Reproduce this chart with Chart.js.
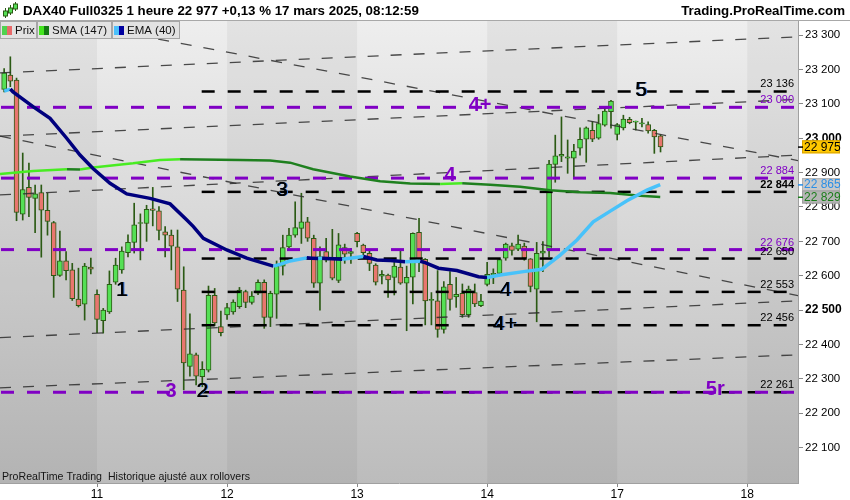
<!DOCTYPE html>
<html>
<head>
<meta charset="utf-8">
<script src="https://cdn.jsdelivr.net/npm/chart.js@4/dist/chart.umd.min.js"></script>
<style>html,body{margin:0;padding:0;background:#fff}canvas{display:block}</style>
</head>
<body>
<canvas id="c" width="850" height="500"></canvas>
<script>
// hourly candles, index 0 = 10 mars ~08:00, 21 bars per trading day
const opens  = [23142,23184,23169,22779,22857,22825,22842,22790,22755,22601,22643,22617,22532,22517,22625,
  22546,22469,22495,22581,22617,22667,22697,22752,22752,22795,22789,22728,22718,22684,22558,22336,22370,22306,22325,22543,22452,
  22486,22495,22510,22554,22522,22549,22581,22479,22546,22628,22684,22718,22738,22757,22709,22578,22670,22648,22586,22682,22665,
  22723,22689,22665,22631,22599,22602,22595,22625,22578,22596,22726,22648,22528,22527,22444,22575,22538,22549,22487,22551,22513,
  22575,22602,22607,22651,22687,22677,22686,22649,22561,22666,22675,22924,22948,22942,22942,22971,22997,23023,23000,23038,23077,
  23011,23030,23055,23047,23042,23040,23023,23007];
const highs  = [23203,23237,23175,22957,22928,22864,22864,22840,22758,22730,22670,22636,22622,22636,22651,
  22559,22505,22614,22651,22684,22719,22811,22780,22805,22857,22801,22743,22733,22733,22626,22489,22375,22350,22570,22563,22497,
  22520,22530,22566,22558,22554,22588,22588,22555,22643,22718,22738,22815,22840,22770,22718,22684,22709,22735,22723,22692,22680,
  22726,22692,22675,22635,22615,22605,22648,22677,22628,22725,22767,22650,22551,22615,22583,22612,22595,22576,22570,22576,22546,
  22639,22620,22650,22695,22695,22718,22695,22650,22697,22699,22936,23009,23062,22995,22982,23030,23033,23048,23069,23087,23110,
  23043,23067,23061,23050,23058,23048,23026,23010];
const lows   = [23135,23150,22760,22762,22772,22725,22654,22718,22537,22598,22588,22528,22509,22471,22605,
  22434,22433,22490,22575,22607,22655,22666,22646,22700,22745,22704,22655,22617,22525,22268,22308,22282,22277,22320,22455,22425,
  22473,22488,22505,22507,22517,22545,22447,22452,22476,22602,22680,22712,22694,22700,22566,22500,22640,22588,22580,22636,22636,
  22684,22660,22615,22573,22576,22537,22544,22575,22440,22518,22612,22457,22457,22421,22433,22500,22508,22479,22479,22510,22510,
  22570,22577,22600,22645,22660,22673,22645,22553,22466,22612,22655,22872,22932,22898,22888,22951,22930,22990,22997,23035,23029,
  22995,23024,23042,23024,23033,23015,22956,22960];
const closes = [23190,23166,22784,22851,22828,22838,22791,22758,22600,22643,22615,22533,22513,22628,22619,
  22473,22500,22575,22631,22672,22697,22748,22755,22793,22790,22732,22718,22686,22561,22346,22373,22308,22328,22543,22463,22434,
  22507,22523,22558,22522,22541,22581,22479,22549,22628,22682,22718,22740,22757,22709,22578,22656,22645,22593,22690,22663,22670,
  22699,22667,22636,22581,22604,22588,22628,22578,22595,22723,22648,22527,22531,22444,22568,22531,22546,22487,22561,22518,22526,
  22604,22607,22647,22692,22674,22692,22651,22569,22665,22672,22925,22949,22953,22946,22963,22997,23030,22997,23043,23079,23108,
  23040,23056,23045,23050,23045,23021,23004,22975];

// moving averages (bar index, price)
const smaIdx  = [-0.67,4.66,10.15,12.25,14.35,20.82,25.18,28.41,31.64,38.1,42.95,46.18,49.9,55.87,60.72,65.57,70.41,73.97,78.49,83.34,88.18,93.03,97.88,102.72,105.95];
const smaVals = [22896,22905,22910,22909,22915,22927,22937,22939,22938,22937,22935,22929,22910,22889,22875,22868,22867,22869,22865,22859,22849,22843,22841,22833,22829];
const emaIdx  = [0,1,1.43,4.66,7.41,10.1,12.25,14.35,17.1,19.8,23.56,26.8,29.5,30.56,32.17,35.95,39.18,43.48,44.56,46.18,48.88,49.7,50.7,51.35,54.58,58.02,60.19,62.33,64.76,67.18,67.99,70.14,73.11,76.6,78.0,80.1,83.87,86.84,89.8,92.5,95.13,97.88,100.57,103.8,105.95];
const emaVals = [23137,23143,23135,23092,23058,23000,22951,22912,22869,22838,22825,22809,22762,22743,22709,22675,22651,22628,22633,22643,22652,22651,22650,22651,22648,22656,22646,22644,22641,22642,22638,22622,22615,22597,22595,22602,22612,22619,22660,22704,22757,22788,22818,22849,22865];

// horizontal levels
const purpleLevels = [23090, 22884, 22676, 22261];
const purpleLabelLevels = [23090, 22884, 22676];
const blackLevels = [23136, 22844, 22650, 22553, 22456, 22261];
const blackLevelStart = 32;

// thin dashed trend lines: [idx0, price0, idx1, price1]
const trendLines = [
  [-0.67, 23190, 128.2, 23295],
  [-0.67, 23006, 128.2, 23113],
  [-0.67, 23006, 128.2, 22542],
  [-0.67, 23376, 128.2, 22935],
  [-0.67, 22420, 128.2, 22527],
  [-0.67, 22274, 128.2, 22370],
  [-0.67, 22835, 128.2, 22951]
];

// wave labels
const waveText   = ['1','2','3','3','4','4+','4','4+','5','5r'];
const waveIdx    = [19.04,32.04,44.9,26.95,80.99,80.9,72.03,76.87,102.9,114.84];
const wavePrice  = [22557,22263,22849,22262,22558,22460,22893,23096,23140,22268];
const wavePurple = [false,false,false,true,false,false,true,true,false,true];

const dayTickIdx = [15, 36, 57, 78, 99, 120];
const dayLabels  = ['11', '12', '13', '14', '17', '18'];
const yTicks = [22100,22200,22300,22400,22500,22600,22700,22800,22900,23000,23100,23200,23300];

const lastPrice = 22975, emaLast = 22865, smaLast = 22829;

const FONT = "'Liberation Sans', Arial, sans-serif";
const UP = '#55e055', DOWN = '#e8766e', EDGE = '#2b5a14';
const PURPLE = '#8000c4';
const fmt = v => String(v).replace(/\B(?=(\d{3})+(?!\d))/g, ' ');

const idxs = closes.map((_, i) => i);
const datasets = [];

datasets.push({
  type: 'bar', order: 10, grouped: false,
  data: idxs.map(i => ({x: i, y: [lows[i], highs[i]]})),
  backgroundColor: EDGE, borderWidth: 0, barThickness: 1, clip: 0
});
datasets.push({
  type: 'bar', order: 9, grouped: false,
  data: idxs.map(i => ({x: i, y: [opens[i], closes[i]]})),
  backgroundColor: c => closes[c.dataIndex] >= opens[c.dataIndex] ? UP : DOWN,
  borderColor: EDGE, borderWidth: 1, borderSkipped: false, barThickness: 5, minBarLength: 1, clip: 0
});
trendLines.forEach(t => datasets.push({
  type: 'line', order: 6, data: [{x: t[0], y: t[1]}, {x: t[2], y: t[3]}],
  borderColor: 'rgba(45,45,45,0.85)', borderWidth: 1.3, borderDash: [11, 12], pointRadius: 0, clip: 0
}));
datasets.push({
  type: 'line', order: 3, data: smaIdx.map((v, i) => ({x: v, y: smaVals[i]})),
  borderWidth: 2.5, pointRadius: 0, clip: 0,
  segment: {borderColor: s => s.p1.parsed.y >= s.p0.parsed.y ? '#48ec22' : '#1f801f'}
});
datasets.push({
  type: 'line', order: 2, data: emaIdx.map((v, i) => ({x: v, y: emaVals[i]})),
  borderWidth: 3.5, pointRadius: 0, clip: 0,
  segment: {borderColor: s => s.p1.parsed.y >= s.p0.parsed.y ? '#48c2fa' : '#00007e'}
});
blackLevels.forEach(v => datasets.push({
  type: 'line', order: 5, data: [{x: blackLevelStart - 0.1, y: v}, {x: 128.2, y: v}],
  borderColor: '#000', borderWidth: 2.5, borderDash: [13, 13], pointRadius: 0, clip: 0
}));
purpleLevels.forEach(v => datasets.push({
  type: 'line', order: 4, data: [{x: -0.67, y: v}, {x: 128.2, y: v}],
  borderColor: PURPLE, borderWidth: 3, borderDash: [13, 13], borderDashOffset: -1, pointRadius: 0, clip: 0
}));

const bgPlugin = {
  id: 'bg',
  beforeDraw(chart) {
    const {ctx, chartArea: a, scales: {x}} = chart;
    ctx.save();
    ctx.fillStyle = '#fff';
    ctx.fillRect(0, 0, chart.width, chart.height);
    const g = ctx.createLinearGradient(0, a.top, 0, a.bottom);
    g.addColorStop(0, '#eeeeee');
    g.addColorStop(1, '#bcbcbc');
    ctx.fillStyle = g;
    ctx.fillRect(a.left, a.top, a.right - a.left, a.bottom - a.top);
    const edges = [x.min, ...dayTickIdx, x.max];
    ctx.fillStyle = 'rgba(0,0,0,0.045)';
    for (let i = 0; i < edges.length - 1; i += 2) {
      const x0 = x.getPixelForValue(edges[i]), x1 = x.getPixelForValue(edges[i + 1]);
      ctx.fillRect(x0, a.top, x1 - x0, a.bottom - a.top);
    }
    ctx.restore();
  }
};

function legendBox(ctx, x0, x1, c1, c2, label) {
  ctx.fillStyle = '#e2e2e2';
  ctx.fillRect(x0, 21, x1 - x0, 18);
  ctx.strokeStyle = '#a6a6a6';
  ctx.lineWidth = 1;
  ctx.strokeRect(x0 + 0.5, 21.5, x1 - x0 - 1, 17);
  ctx.fillStyle = c1; ctx.fillRect(x0 + 2, 26, 5, 9);
  ctx.fillStyle = c2; ctx.fillRect(x0 + 7, 26, 5, 9);
  ctx.fillStyle = '#111';
  ctx.font = '11.5px ' + FONT;
  ctx.textAlign = 'left'; ctx.textBaseline = 'middle';
  ctx.fillText(label, x0 + 15, 31);
}

const overlay = {
  id: 'overlay',
  afterDraw(chart) {
    const {ctx, chartArea: a, scales: {x, y}} = chart;
    ctx.save();

    // level labels
    ctx.textAlign = 'right'; ctx.textBaseline = 'alphabetic';
    purpleLabelLevels.forEach(v => {
      ctx.font = '11px ' + FONT; ctx.fillStyle = PURPLE;
      ctx.fillText(fmt(v), a.right - 4, y.getPixelForValue(v) - 4);
    });
    blackLevels.forEach(v => {
      ctx.font = (v === 22844 ? 'bold ' : '') + '11px ' + FONT; ctx.fillStyle = '#000';
      ctx.fillText(fmt(v), a.right - 4, y.getPixelForValue(v) - 4);
    });

    // wave labels
    ctx.textAlign = 'center'; ctx.textBaseline = 'middle';
    waveText.forEach((t, i) => {
      const px = x.getPixelForValue(waveIdx[i]), py = y.getPixelForValue(wavePrice[i]);
      if (wavePurple[i]) {
        ctx.font = 'bold 20px ' + FONT; ctx.fillStyle = PURPLE;
        ctx.fillText(t, px, py);
      } else {
        ctx.font = '21px ' + FONT;
        ctx.fillStyle = '#3a7ae0'; ctx.fillText(t, px + 1, py);
        ctx.fillStyle = '#000'; ctx.fillText(t, px, py);
        ctx.fillText(t, px - 0.4, py);
      }
    });

    // attribution
    ctx.textAlign = 'left'; ctx.textBaseline = 'alphabetic';
    ctx.font = '11px ' + FONT; ctx.fillStyle = '#151515';
    const note = 'ProRealTime Trading  Historique ajusté aux rollovers';
    const w = ctx.measureText(note).width;
    ctx.save(); ctx.translate(2, 480); ctx.scale(248 / w, 1); ctx.fillText(note, 0, 0); ctx.restore();

    // price tags on the axis
    const tag = (v, fill, stroke, color, tick) => {
      const py = y.getPixelForValue(v);
      ctx.fillStyle = fill; ctx.fillRect(a.right + 4, py - 6.5, 38, 13);
      ctx.strokeStyle = stroke; ctx.lineWidth = 1; ctx.strokeRect(a.right + 4.5, py - 6, 37, 12);
      ctx.fillStyle = tick; ctx.fillRect(a.right, py - 0.5, 5, 1.5);
      ctx.font = '12px ' + FONT; ctx.fillStyle = color; ctx.textAlign = 'left'; ctx.textBaseline = 'middle';
      ctx.fillText(fmt(v), a.right + 6, py + 0.5);
    };
    tag(lastPrice, '#ffc800', '#d9a200', '#000', '#000');
    tag(emaLast, '#c9c9c9', '#b0b0b0', '#2b8fe6', '#2b8fe6');
    tag(smaLast, '#b5b5b5', '#a0a0a0', '#1a7d1a', '#1a7d1a');

    // header
    ctx.fillStyle = '#fff'; ctx.fillRect(0, 0, chart.width, 20);
    ctx.fillStyle = '#a8a8a8'; ctx.fillRect(0, 20, chart.width, 1);
    [[5, 11, 16, 8, 18], [10, 8, 13, 5, 15], [15, 4, 9, 2, 11]].forEach(c => {
      ctx.fillStyle = EDGE; ctx.fillRect(c[0], c[3], 1, c[4] - c[3]);
      ctx.fillStyle = UP; ctx.fillRect(c[0] - 1.5, c[1], 4, c[2] - c[1]);
      ctx.strokeStyle = EDGE; ctx.strokeRect(c[0] - 1.5, c[1], 4, c[2] - c[1]);
    });
    ctx.font = 'bold 13.3px ' + FONT; ctx.fillStyle = '#000';
    ctx.textAlign = 'left'; ctx.textBaseline = 'middle';
    ctx.fillText('DAX40 Full0325 1 heure 22 977 +0,13 % 17 mars 2025, 08:12:59', 23, 11);
    ctx.textAlign = 'right';
    ctx.fillText('Trading.ProRealTime.com', 845, 11);

    // legend row
    legendBox(ctx, 0, 37, '#4fd24f', '#e86a6a', 'Prix');
    legendBox(ctx, 37, 112, '#44e61e', '#137a13', 'SMA (147)');
    legendBox(ctx, 112, 180, '#4cc0fb', '#0000a0', 'EMA (40)');

    ctx.restore();
  }
};

new Chart(document.getElementById('c'), {
  type: 'bar',
  data: {datasets},
  options: {
    responsive: false, devicePixelRatio: 1, animation: false,
    layout: {padding: {top: 20, left: 0, right: 0, bottom: 0}},
    plugins: {legend: {display: false}, tooltip: {enabled: false}, title: {display: false}},
    scales: {
      x: {
        type: 'linear', min: -0.67, max: 128.2, offset: false,
        afterBuildTicks: ax => { ax.ticks = dayTickIdx.map(v => ({value: v})); },
        afterFit: ax => { ax.height = 17; },
        ticks: {callback: (v, i) => dayLabels[i], font: {family: FONT, size: 12}, color: '#000',
                padding: 0, maxRotation: 0, autoSkip: false},
        grid: {drawOnChartArea: false, drawTicks: true, tickLength: 4, color: '#888', offset: false},
        border: {color: '#a0a0a0'}
      },
      y: {
        position: 'right', min: 21997, max: 23344,
        afterBuildTicks: ax => { ax.ticks = yTicks.map(v => ({value: v})); },
        afterFit: ax => { ax.width = 52; },
        ticks: {
          callback: v => fmt(v), color: '#000', padding: 2,
          font: c => ({family: FONT, size: (c.tick && (c.tick.value === 23000 || c.tick.value === 22500)) ? 12 : 11.5,
                       weight: (c.tick && (c.tick.value === 23000 || c.tick.value === 22500)) ? 'bold' : 'normal'})
        },
        grid: {drawOnChartArea: false, drawTicks: true, tickLength: 5, color: '#888'},
        border: {color: '#a0a0a0'}
      }
    }
  },
  plugins: [bgPlugin, overlay]
});
</script>
</body>
</html>
